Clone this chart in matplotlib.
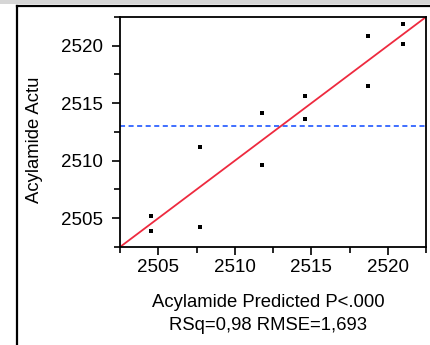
import matplotlib
matplotlib.use("Agg")
import matplotlib.pyplot as plt
from matplotlib.lines import Line2D
from matplotlib.patches import Rectangle
from matplotlib.ticker import MultipleLocator
import numpy as np

predicted = [2504.5, 2504.5, 2507.7, 2507.7, 2511.8, 2511.8,
             2514.6, 2514.6, 2518.7, 2518.7, 2521.0, 2521.0]
actual = [2505.16, 2503.86, 2511.20, 2504.24, 2514.12, 2509.60,
          2515.60, 2513.60, 2520.81, 2516.53, 2521.89, 2520.15]
axis_range = [2502.5, 2522.5]
tick_values = [2505, 2510, 2515, 2520]

xlabel_lines = ["Acylamide Predicted P<.000", "RSq=0,98 RMSE=1,693"]
ylabel = "Acylamide Actu"

plt.rcParams["font.family"] = ["Liberation Sans", "DejaVu Sans"]

W, H = 431, 345
fig = plt.figure(figsize=(W / 100, H / 100), dpi=100)

# outer window frame
fig.patches.append(Rectangle((0, 1 - 4 / H), 1, 4 / H, transform=fig.transFigure,
                             facecolor="#d6d6d6", edgecolor="none"))
fig.lines.append(Line2D([17 / W, 1], [1 - 5.5 / H, 1 - 5.5 / H],
                        transform=fig.transFigure, color="black", lw=1.6))
fig.lines.append(Line2D([17 / W, 17 / W], [0, 1 - 5.5 / H],
                        transform=fig.transFigure, color="black", lw=1.6))

ax = fig.add_axes([120 / W, (H - 247) / H, 306 / W, 230 / H])

ax.plot(axis_range, axis_range, color="#ee2a3f", lw=1.3, zorder=2)
ax.axhline(np.mean(actual), color="#3f6fff", lw=1.4, ls=(0, (2.6, 1.8)), zorder=1)
ax.scatter(predicted, actual, marker="s", s=6, color="black", zorder=3, linewidths=0)

ax.set_xlim(axis_range)
ax.set_ylim(axis_range)
ax.set_xticks(tick_values)
ax.set_yticks(tick_values)
ax.xaxis.set_minor_locator(MultipleLocator(2.5))
ax.yaxis.set_minor_locator(MultipleLocator(2.5))
ax.tick_params(which="major", length=6, width=1.2, labelsize=13.5, direction="out")
ax.tick_params(which="minor", length=4, width=1.2, direction="out")
ax.tick_params(axis="y", pad=6)
ax.tick_params(axis="x", pad=3)
for s in ax.spines.values():
    s.set_linewidth(1.3)

fig.text(268 / W, 1 - 307 / H, xlabel_lines[0], ha="center", va="baseline", fontsize=13.3)
fig.text(268 / W, 1 - 330 / H, xlabel_lines[1], ha="center", va="baseline", fontsize=13.3)
fig.text(35 / W, 1 - 140 / H, ylabel, rotation=90, ha="center", va="center", fontsize=13.3)

fig.savefig("out.png", dpi=100)
